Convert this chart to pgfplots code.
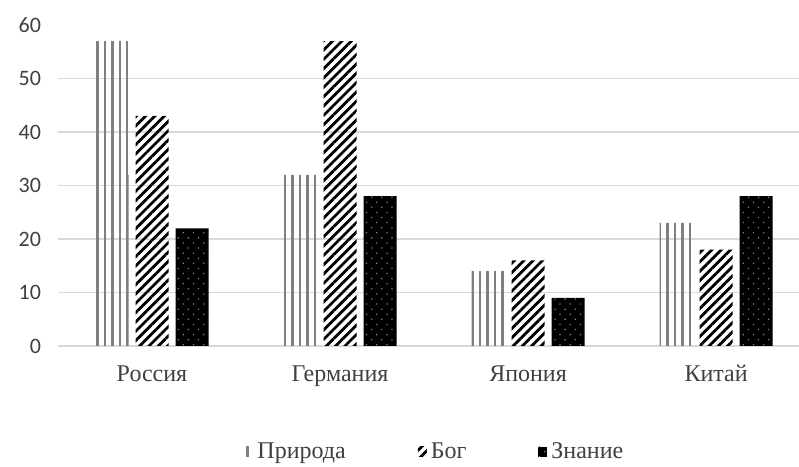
\documentclass[border=0pt]{standalone}
\usepackage{fontspec}
\setmainfont{Liberation Serif}
\newfontfamily\numfont{Carlito}
\usepackage{pgfplots}
\pgfplotsset{compat=1.18}
\usetikzlibrary{patterns.meta, calc}

\definecolor{gridgray}{HTML}{D9D9D9}
\definecolor{txtgray}{HTML}{404040}
\definecolor{linegray}{HTML}{7F7F7F}

\pgfplotstableread{
x nature god know
0 57 43 22
1 32 57 28
2 14 16 9
3 23 18 28
}\data

\begin{document}
\begin{tikzpicture}
\begin{axis}[
  name=main,
  scale only axis,
  width=370.5pt, height=160.5pt,
  ybar=3.5pt,
  bar width=16.5pt,
  xmin=-0.5, xmax=3.441,
  ymin=0, ymax=60,
  ytick={0,10,...,50},
  extra y ticks={60},
  extra y tick style={grid=none},
  xtick={0,1,2,3},
  xticklabels={Россия, Германия, Япония, Китай},
  ymajorgrids,
  major grid style={gridgray, line width=0.8pt},
  axis line style={draw=none},
  major tick length=0pt,
  /pgf/number format/assume math mode=true,
  yticklabel style={font=\numfont\fontsize{11}{13}\selectfont, color=txtgray, xshift=-5pt},
  xticklabel style={font=\fontsize{12}{14}\selectfont, color=txtgray, yshift=-7pt,
    text height=1.6ex, text depth=0.5ex},
  legend style={at={(0.51,-0.33)}, anchor=center, draw=none, fill=none,
    legend columns=-1, font=\fontsize{12}{14}\selectfont, text=txtgray,
    /tikz/every even column/.append style={column sep=34pt}},
  legend image code/.code={\path[#1] (0pt,-2.5pt) rectangle (4.5pt,2.5pt);},
  clip=false,
]
\addplot[draw=none, pattern={Lines[angle=90, distance=3.75pt, line width=1.2pt]}, pattern color=linegray] table[x=x, y=nature] {\data};
\addplot[draw=none, pattern={Lines[angle=45, distance=3.3pt, line width=1.4pt]}, pattern color=black] table[x=x, y=god] {\data};
\addplot[draw=none, fill=black, postaction={pattern={Dots[distance=3.6pt, angle=45, radius=0.45pt]}, pattern color=gray}] table[x=x, y=know] {\data};
\legend{Природа, Бог, Знание}
\end{axis}
\pgfresetboundingbox
\useasboundingbox ($(main.south west)+(-29pt,-60.5pt)$) rectangle ($(main.north east)+(0pt,12.5pt)$);
\end{tikzpicture}
\end{document}
